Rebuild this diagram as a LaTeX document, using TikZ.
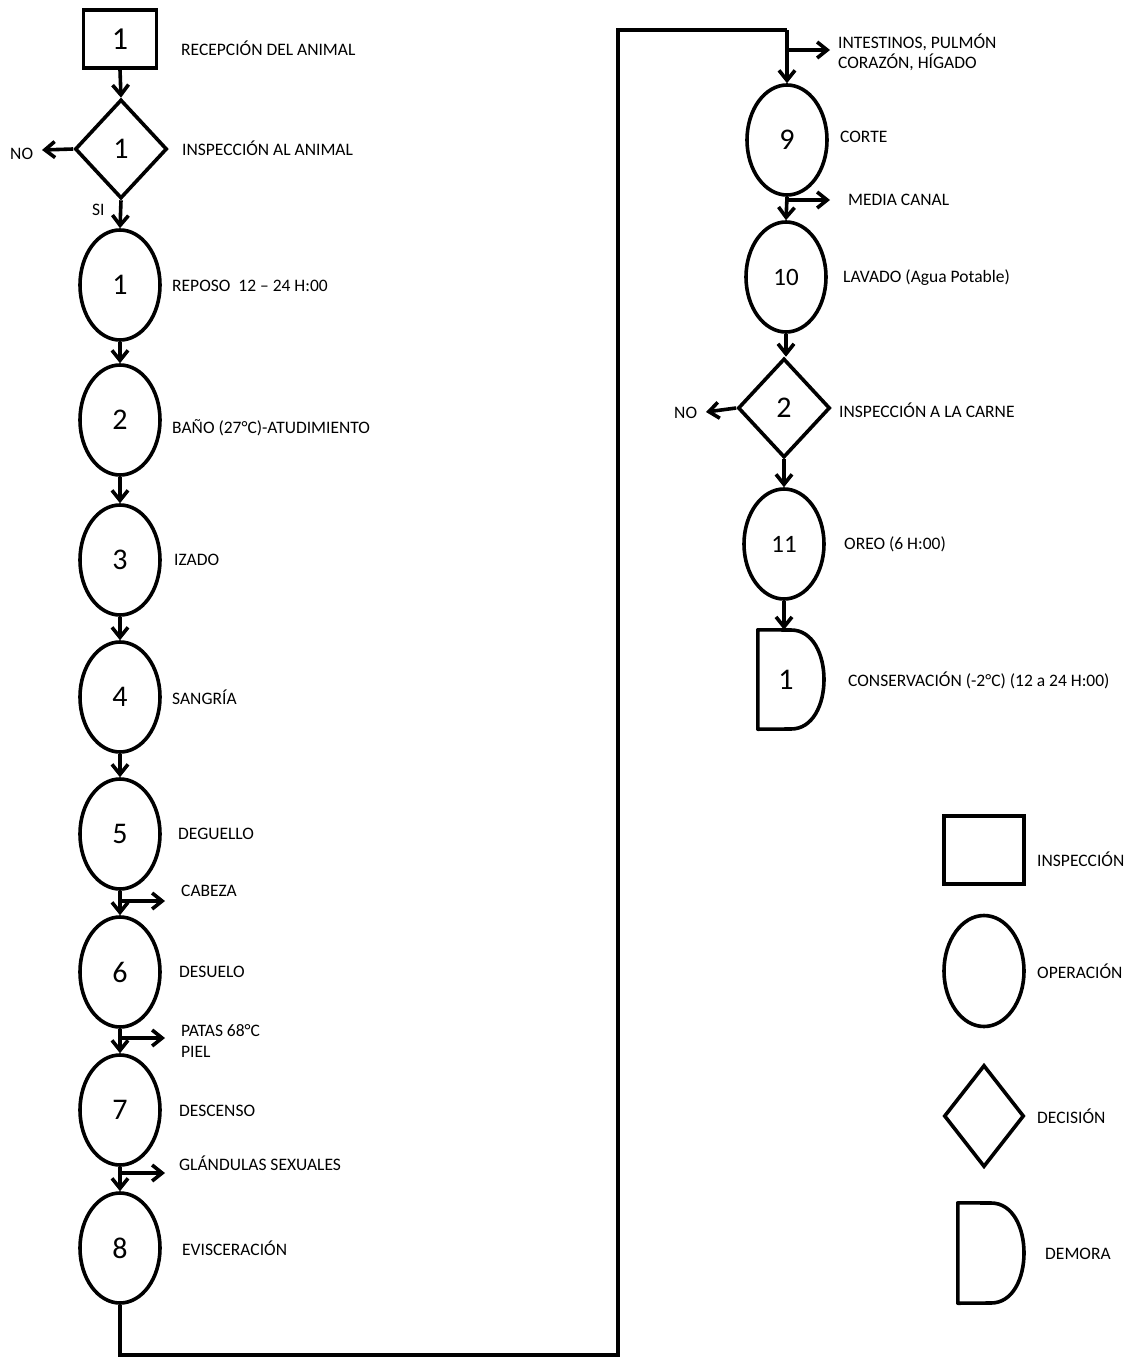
\documentclass[tikz,border=0pt]{standalone}
\usepackage{fontspec}
\setmainfont{Carlito}
\usetikzlibrary{shapes.geometric,arrows.meta}
\begin{document}
\begin{tikzpicture}[x=1pt,y=-1pt,
  lw/.style={line width=3.6pt},
  arr/.style={lw,-{Straight Barb[length=10pt,width=16pt]}},
  opbox/.style={draw,lw,ellipse,minimum width=80pt,minimum height=110pt,inner sep=0pt,font=\fontsize{30}{33}\selectfont},
  opboxtwo/.style={opbox,font=\fontsize{25}{28}\selectfont},
  decbox/.style={draw,lw,diamond,minimum width=92pt,minimum height=99pt,inner sep=0pt,font=\fontsize{30}{33}\selectfont},
  insbox/.style={draw,lw,rectangle,minimum width=73pt,minimum height=58pt,inner sep=0pt,font=\fontsize{32}{35}\selectfont},
  lbl/.style={anchor=west,inner sep=0pt,font=\fontsize{17.5}{20}\selectfont},
  numtxt/.style={inner sep=0pt,font=\fontsize{30}{33}\selectfont}]
\useasboundingbox (0,0) rectangle (1129,1357);
% left column
\node[insbox] (i1) at (120,39) {1};
\node[decbox] (d1) at (121,149) {1};
\node[opbox] (e1) at (120,285) {1};
\node[opbox] (e2) at (120,420) {2};
\node[opbox] (e3) at (120,560) {3};
\node[opbox] (e4) at (120,697) {4};
\node[opbox] (e5) at (120,834) {5};
\node[opbox] (e6) at (120,972) {6};
\node[opbox] (e7) at (120,1110) {7};
\node[opbox] (e8) at (120,1248) {8};
% right column
\node[opbox] (e9) at (787,140) {9};
\node[opboxtwo] (e10) at (786,277) {10};
\node[decbox] (d2) at (784,408) {2};
\node[opboxtwo] (e11) at (784,544) {11};
\node[inner sep=0pt,minimum width=66pt,minimum height=99pt] (w1) at (791,679.5) {};
\node[numtxt] (w1t) at (786,680) {1};
\draw[lw,line join=round] (w1.north west) -- (791,630) .. controls (835,630) and (835,729) .. (791,729) -- (w1.south west) -- cycle;
% connectors left
\draw[arr] (i1.south) -- (d1.north);
\draw[arr] (d1.south) -- (e1.north);
\draw[arr] (e1.south) -- (e2.north);
\draw[arr] (e2.south) -- (e3.north);
\draw[arr] (e3.south) -- (e4.north);
\draw[arr] (e4.south) -- (e5.north);
\draw[arr] (e5.south) -- (e6.north);
\draw[arr] (e6.south) -- (e7.north);
\draw[arr] (e7.south) -- (e8.north);
\coordinate (no1) at (42,150);
\draw[arr] (d1.west) -- (no1);
\node[lbl] (tno1) at (10,154) {NO};
\node[lbl] (tsi) at (92,210) {SI};
% side exits left
\coordinate (s5a) at (121,901); \coordinate (s5b) at (165,901);
\coordinate (s6a) at (121,1038); \coordinate (s6b) at (165,1038);
\coordinate (s7a) at (121,1173); \coordinate (s7b) at (165,1173);
\draw[arr] (s5a) -- (s5b);
\draw[arr] (s6a) -- (s6b);
\draw[arr] (s7a) -- (s7b);
% long connector
\coordinate (c1) at (120,1355);
\coordinate (c2) at (618,1355);
\coordinate (c3) at (618,30);
\coordinate (c4) at (787,30);
\draw[lw,line join=miter] (e8.south) -- (c1) -- (c2) -- (c3) -- (c4);
\draw[arr] (c4) -- (e9.north);
% right connectors
\draw[arr] (e9.south) -- (e10.north);
\draw[arr] (e10.south) -- (e10.south |- d2.north);
\draw[arr] (d2.south) -- (e11.north);
\draw[arr] (e11.south) -- (e11.south |- w1.north);
\coordinate (no2) at (706,412);
\draw[arr] (d2.west) -- (no2);
\node[lbl] (tno2) at (674,413) {NO};
\coordinate (s9a) at (788,50); \coordinate (s9b) at (830,50);
\coordinate (s10a) at (788,200); \coordinate (s10b) at (830,200);
\draw[arr] (s9a) -- (s9b);
\draw[arr] (s10a) -- (s10b);
% labels left
\node[lbl] (l1) at (181,48) {RECEPCIÓN DEL ANIMAL};
\node[lbl] (l2) at (182,148) {INSPECCIÓN AL ANIMAL};
\node[lbl] (l3) at (172,286) {REPOSO\ \ 12 – 24 H:00};
\node[lbl] (l4) at (172,428) {BAÑO (27°C)-ATUDIMIENTO};
\node[lbl] (l5) at (174,560) {IZADO};
\node[lbl] (l6) at (172,697) {SANGRÍA};
\node[lbl] (l7) at (178,834) {DEGUELLO};
\node[lbl] (l8) at (181,891) {CABEZA};
\node[lbl] (l9) at (179,972) {DESUELO};
\node[lbl] (l10) at (181,1031) {PATAS 68°C};
\node[lbl] (l11) at (181,1052) {PIEL};
\node[lbl] (l12) at (179,1111) {DESCENSO};
\node[lbl] (l13) at (179,1163) {GLÁNDULAS SEXUALES};
\node[lbl] (l14) at (182,1248) {EVISCERACIÓN};
% labels right
\node[lbl] (r1) at (838,42) {INTESTINOS, PULMÓN};
\node[lbl] (r2) at (838,62) {CORAZÓN, HÍGADO};
\node[lbl] (r3) at (840,137) {CORTE};
\node[lbl] (r4) at (848,200) {MEDIA CANAL};
\node[lbl] (r5) at (843,278) {LAVADO (Agua Potable)};
\node[lbl] (r6) at (839,410) {INSPECCIÓN A LA CARNE};
\node[lbl] (r7) at (844,544) {OREO (6 H:00)};
\node[lbl] (r8) at (848,680) {CONSERVACIÓN (-2°C) (12 a 24 H:00)};
% legend
\node[draw,lw,rectangle,minimum width=80pt,minimum height=68pt,inner sep=0pt] (gi) at (984,850) {};
\node[draw,lw,ellipse,minimum width=80pt,minimum height=111pt,inner sep=0pt] (go) at (984,971) {};
\node[draw,lw,diamond,minimum width=80pt,minimum height=102pt,inner sep=0pt] (gd) at (984,1116) {};
\node[inner sep=0pt,minimum width=66pt,minimum height=100pt] (gw) at (991,1253) {};
\draw[lw,line join=round] (gw.north west) -- (991,1203) .. controls (1035,1203) and (1035,1303) .. (991,1303) -- (gw.south west) -- cycle;
\node[lbl] (gl1) at (1037,859) {INSPECCIÓN};
\node[lbl] (gl2) at (1037,971) {OPERACIÓN};
\node[lbl] (gl3) at (1037,1116) {DECISIÓN};
\node[lbl] (gl4) at (1045,1254) {DEMORA};
\end{tikzpicture}
\end{document}
